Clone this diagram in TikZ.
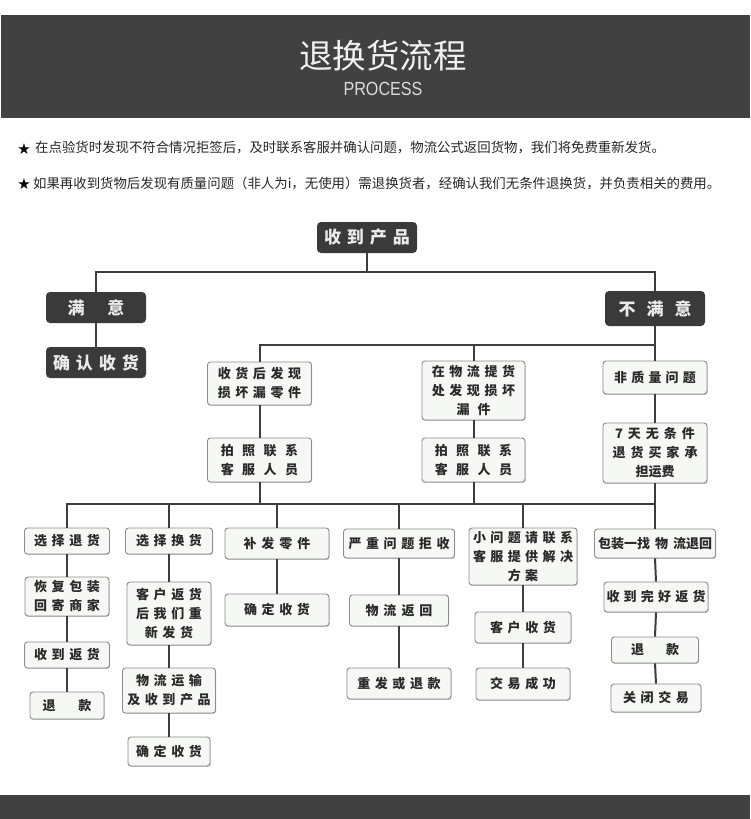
\documentclass[tikz,border=0pt]{standalone}
\usepackage{fontspec}
\usetikzlibrary{shadows}
\newfontfamily\cjk{Noto Sans CJK SC}
\newfontfamily\dejavu{DejaVu Sans}
\newfontfamily\libsans{Liberation Sans}
\definecolor{band}{HTML}{414141}
\definecolor{dkc}{HTML}{3A3A3A}
\definecolor{ltf}{HTML}{F6F8F6}
\definecolor{ltb}{HTML}{8C8C8C}
\definecolor{txt}{HTML}{2A2A2A}
\definecolor{lnc}{HTML}{3D3D3D}
\ExplSyntaxOn
\NewDocumentCommand\spc{O{4.6pt}m}{
  \bool_set_true:N \l_tmpa_bool
  \tl_map_inline:nn {#2}{
    \bool_if:NTF \l_tmpa_bool {\bool_set_false:N \l_tmpa_bool}{\hspace{#1}}
    ##1
  }
}
\ExplSyntaxOff
\begin{document}
\begin{tikzpicture}[x=1pt,y=-1pt,
  sz/.style 2 args={minimum width=#1, minimum height=#2},
  dk/.style={rectangle, rounded corners=4pt, fill=dkc, text=white!92!black, inner sep=0pt, align=center,
    font=\cjk\bfseries\fontsize{17}{20}\selectfont},
  lt/.style={rectangle, rounded corners=3pt, fill=ltf, draw=ltb, line width=0.9pt, text=txt, inner sep=0pt, align=center,
    font=\cjk\bfseries\fontsize{13}{19}\selectfont,
    drop shadow={shadow xshift=0.6pt, shadow yshift=-0.9pt, fill=black, opacity=0.25}},
  ln/.style={draw=lnc, line width=2pt},
  note/.style={anchor=west, inner sep=0pt, text=black!85, font=\cjk\fontsize{13.4}{16}\selectfont},
  star/.style={inner sep=0pt, text=black, font=\dejavu\fontsize{15}{16}\selectfont}
]
\useasboundingbox (0,0) rectangle (750,819);
\fill[white] (0,0) rectangle (750,819);
% header and footer bands
\fill[band] (1,15) rectangle (750,118);
\fill[band] (0,795) rectangle (750,819);
\node[inner sep=0pt, text=white!94!black, font=\cjk\fontsize{33.5}{36}\selectfont] (ttl) at (383,56) {退换货流程};
\node[inner sep=0pt, text=white!85!black, font=\libsans\fontsize{19}{20}\selectfont] (proc) at (383,89) {\scalebox{0.85}[1]{PROCESS}};
% notes
\node[star] (st1) at (24,149) {★};
\node[note] (n1) at (35,148) {在点验货时发现不符合情况拒签后，及时联系客服并确认问题，物流公式返回货物，我们将免费重新发货。};
\node[star] (st2) at (24,184) {★};
\node[note] (n2) at (33,183) {如果再收到货物后发现有质量问题（非人为i，无使用）需退换货者，经确认我们无条件退换货，并负责相关的费用。};
% dark nodes
\node[dk, sz={100pt}{31pt}] (root) at (367,237.5) {\spc[6pt]{收到产品}};
\node[dk, sz={100pt}{31pt}] (man) at (96,307.5) {满\hspace{23pt}意};
\node[dk, sz={100pt}{31pt}] (conf) at (96,362.5) {\spc[6pt]{确认收货}};
\node[dk, sz={100pt}{35pt}] (bu) at (655,308.5) {\spc[11pt]{不满意}};
% level 2
\node[lt, sz={104pt}{43pt}] (a1) at (259.5,383.5) {\spc{收货后发现}\\\spc{损坏漏零件}};
\node[lt, sz={103pt}{59pt}] (b1) at (473.5,390.5) {\spc{在物流提货}\\\spc{处发现损坏}\\\spc[8pt]{漏件}};
\node[lt, sz={104pt}{33pt}] (c1) at (655,377.5) {\spc[4.2pt]{非质量问题}};
\node[lt, sz={104pt}{44pt}] (a2) at (259.5,460) {\spc[8.5pt]{拍照联系}\\\spc[8.5pt]{客服人员}};
\node[lt, sz={103pt}{44pt}] (b2) at (473.5,460) {\spc[8.5pt]{拍照联系}\\\spc[8.5pt]{客服人员}};
\node[lt, sz={104pt}{60pt}] (c2) at (655,453) {\spc[5pt]{7天无条件}\\\spc[5pt]{退货买家承}\\担运费};
% level 3
\node[lt, sz={85pt}{26pt}] (d1) at (67,541) {\spc{选择退货}};
\node[lt, sz={87pt}{26pt}] (e1) at (169,541) {\spc{选择换货}};
\node[lt, sz={104pt}{31pt}] (f1) at (277,543.5) {\spc[5pt]{补发零件}};
\node[lt, sz={111pt}{29pt}] (g1) at (399,543.5) {\spc{严重问题拒收}};
\node[lt, sz={108pt}{57pt}] (h1) at (523,556.5) {\spc[4.4pt]{小问题请联系}\\\spc[4.4pt]{客服提供解决}\\\spc[4.4pt]{方案}};
\node[lt, sz={121pt}{29pt}] (i1) at (655,543.5) {包装一找\hspace{5pt}物\hspace{5pt}流退回};
% column d
\node[lt, sz={84pt}{39pt}] (d2) at (67,596.5) {\spc{恢复包装}\\\spc{回寄商家}};
\node[lt, sz={85pt}{26pt}] (d3) at (67,655) {\spc{收到返货}};
\node[lt, sz={74pt}{27pt}] (d4) at (67,705.5) {退\hspace{23pt}款};
% column e
\node[lt, sz={84pt}{63pt}] (e2) at (169,613.5) {\spc{客户返货}\\\spc{后我们重}\\\spc{新发货}};
\node[lt, sz={93pt}{45pt}] (e3) at (169,690.5) {\spc{物流运输}\\\spc{及收到产品}};
\node[lt, sz={82pt}{29pt}] (e4) at (169,751.5) {\spc{确定收货}};
% column f
\node[lt, sz={104pt}{32pt}] (f2) at (277,610) {\spc{确定收货}};
% column g
\node[lt, sz={99pt}{31pt}] (g2) at (399,610.5) {\spc[5pt]{物流返回}};
\node[lt, sz={104pt}{31pt}] (g3) at (399,683.5) {\spc{重发或退款}};
% column h
\node[lt, sz={96pt}{31pt}] (h2) at (523,627.5) {\spc{客户收货}};
\node[lt, sz={94pt}{32pt}] (h3) at (523,684) {\spc{交易成功}};
% column i
\node[lt, sz={104pt}{30pt}] (i2) at (656,597) {\spc[4.2pt]{收到完好返货}};
\node[lt, sz={87pt}{26pt}] (i3) at (655,650) {退\hspace{22pt}款};
\node[lt, sz={90pt}{28pt}] (i4) at (656,698) {\spc{关闭交易}};
% connectors
\coordinate (r0) at (367,272);
\coordinate (r1) at (450,345);
\coordinate (r2) at (360,504);
\draw[ln] (root.south) -- (r0);
\draw[ln] (man.north) -- (man.north |- r0) -- (bu.north |- r0) -- (bu.north);
\draw[ln] (man.south) -- (conf.north);
\draw[ln] (bu.south) -- (c1.north);
\draw[ln] (a1.north) -- (a1.north |- r1) -- (bu.south |- r1);
\draw[ln] (b1.north) -- (b1.north |- r1);
\draw[ln] (a1.south) -- (a2.north);
\draw[ln] (b1.south) -- (b2.north);
\draw[ln] (c1.south) -- (c2.north);
\draw[ln] (d1.north) -- (d1.north |- r2) -- (c2.south |- r2);
\draw[ln] (a2.south) -- (a2.south |- r2);
\draw[ln] (b2.south) -- (b2.south |- r2);
\draw[ln] (c2.south) -- (i1.north);
\foreach \n in {e1,f1,g1,h1} \draw[ln] (\n.north) -- (\n.north |- r2);
\draw[ln] (d1.south) -- (d2.north);
\draw[ln] (d2.south) -- (d3.north);
\draw[ln] (d3.south) -- (d4.north);
\draw[ln] (e1.south) -- (e2.north);
\draw[ln] (e2.south) -- (e3.north);
\draw[ln] (e3.south) -- (e4.north);
\draw[ln] (f1.south) -- (f2.north);
\draw[ln] (g1.south) -- (g2.north);
\draw[ln] (g2.south) -- (g3.north);
\draw[ln] (h1.south) -- (h2.north);
\draw[ln] (h2.south) -- (h3.north);
\draw[ln] (i1.south) -- (i2.north);
\draw[ln] (i2.south) -- (i3.north);
\draw[ln] (i3.south) -- (i4.north);
\end{tikzpicture}
\end{document}
